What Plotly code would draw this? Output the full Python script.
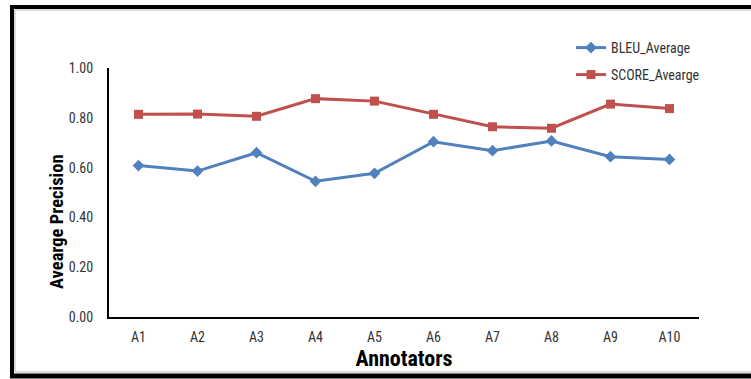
import plotly.graph_objects as go

annotators = ["A1", "A2", "A3", "A4", "A5", "A6", "A7", "A8", "A9", "A10"]
bleu_average = [0.608, 0.586, 0.660, 0.545, 0.577, 0.704, 0.668, 0.707, 0.644, 0.633]
score_average = [0.814, 0.815, 0.806, 0.877, 0.867, 0.814, 0.764, 0.758, 0.855, 0.837]
y_ticks = [0.0, 0.2, 0.4, 0.6, 0.8, 1.0]

FONT = "Liberation Sans Narrow, Arial Narrow, Roboto Condensed, Liberation Sans, sans-serif"
BLUE = "#4F81BD"
RED = "#C0504D"
TICK = "#333333"

fig = go.Figure()
fig.add_trace(go.Scatter(
    x=annotators, y=bleu_average, name="BLEU_Average", mode="lines+markers",
    line=dict(color=BLUE, width=3), marker=dict(symbol="diamond", size=9, color=BLUE),
    legend="legend", showlegend=True,
))
fig.add_trace(go.Scatter(
    x=annotators, y=score_average, name="SCORE_Avearge", mode="lines+markers",
    line=dict(color=RED, width=3), marker=dict(symbol="square", size=9, color=RED),
    legend="legend2", showlegend=True,
))

L, R, T, B = 109, 52, 68, 62
W, H = 751, 379
pw, ph = W - L - R, H - T - B

def px(x):
    return (x - L) / pw

def py(y):
    return (H - B - y) / ph

shapes = [
    dict(type="line", xref="paper", yref="paper", x0=px(10), x1=px(W), y0=py(7), y1=py(7),
         line=dict(color="black", width=4)),
    dict(type="line", xref="paper", yref="paper", x0=px(12), x1=px(12), y0=py(5), y1=py(378),
         line=dict(color="black", width=4)),
    dict(type="line", xref="paper", yref="paper", x0=px(10), x1=px(W), y0=py(376), y1=py(376),
         line=dict(color="black", width=5)),
    dict(type="line", xref="paper", yref="paper", x0=px(15), x1=px(W), y0=py(10), y1=py(10),
         line=dict(color="#BBBBBB", width=1)),
    dict(type="line", xref="paper", yref="paper", x0=px(15), x1=px(15), y0=py(10), y1=py(372),
         line=dict(color="#BBBBBB", width=1)),
    dict(type="line", xref="paper", yref="paper", x0=px(15), x1=px(W), y0=py(372), y1=py(372),
         line=dict(color="#BBBBBB", width=1)),
]

annotations = [
    dict(text="<b>Avearge Precision</b>", xref="paper", yref="paper", x=px(57), y=py(222),
         xanchor="center", yanchor="middle", textangle=-90, showarrow=False,
         font=dict(family=FONT, size=18.5, color="black")),
]

fig.update_layout(
    width=W, height=H,
    margin=dict(l=L, r=R, t=T, b=B, autoexpand=False),
    paper_bgcolor="white", plot_bgcolor="white",
    font=dict(family=FONT, color=TICK, size=14),
    shapes=shapes,
    annotations=annotations,
    showlegend=True,
    legend=dict(x=px(571), y=py(32), xanchor="left", yanchor="top",
                font=dict(family=FONT, size=14, color=TICK), bgcolor="rgba(0,0,0,0)",
                itemwidth=30),
    legend2=dict(x=px(571), y=py(59), xanchor="left", yanchor="top",
                 font=dict(family=FONT, size=14, color=TICK), bgcolor="rgba(0,0,0,0)",
                 itemwidth=30),
    xaxis=dict(
        type="category", range=[-0.5, 9.5], showgrid=False, zeroline=False,
        showline=True, linecolor="black", linewidth=2, ticks="",
        tickfont=dict(family=FONT, size=14, color=TICK), ticklabelstandoff=6,
        title=dict(text="<b>Annotators</b>", font=dict(family=FONT, size=22, color="black"), standoff=7),
    ),
    yaxis=dict(
        range=[0, 1], tickvals=y_ticks, tickformat=".2f", showgrid=False, zeroline=False,
        showline=True, linecolor="black", linewidth=2, ticks="",
        tickfont=dict(family=FONT, size=14, color=TICK), ticklabelstandoff=11,
    ),
)

fig.write_html(
    "out.html",
    config={"displayModeBar": False},
    post_script=(
        "document.documentElement.style.overflow='hidden';"
        "document.body.style.margin='0';document.body.style.padding='0';"
        "document.body.style.overflow='hidden';"
    ),
)
